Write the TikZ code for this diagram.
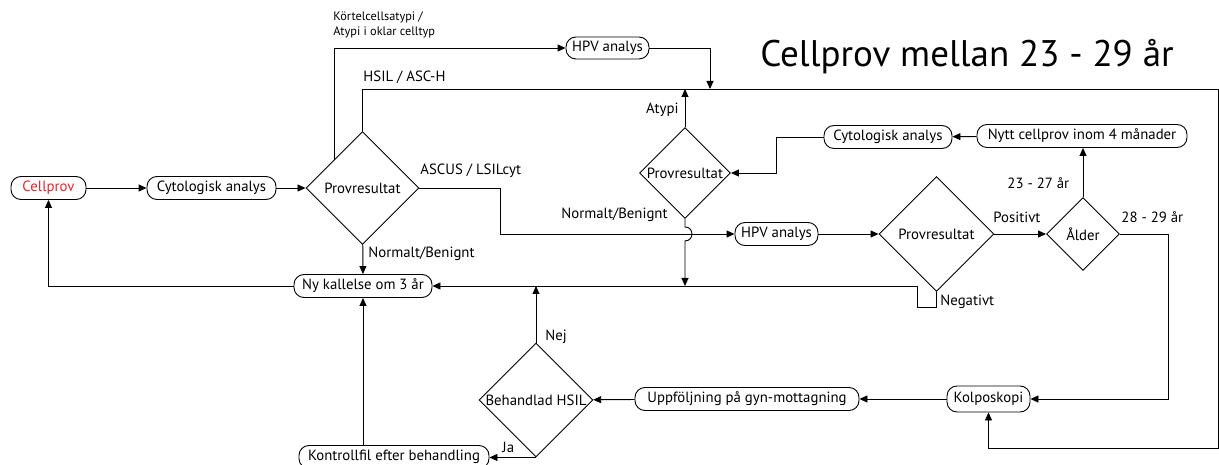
\documentclass[tikz,border=0pt]{standalone}
\usepackage{fontspec}
\setmainfont{PT Sans}
\usetikzlibrary{arrows.meta,calc,positioning,shapes.geometric}
\definecolor{provred}{HTML}{E3262B}

\begin{document}
\begin{tikzpicture}[
    x=1pt, y=-1pt,
    line width=0.9pt,
    font=\fontsize{14.8}{17}\selectfont,
    box/.style={draw, rounded corners=10pt, minimum height=23pt, inner sep=0, align=center},
    choice/.style={draw, diamond, inner sep=0, minimum width=#1, minimum height=#1},
    lbl/.style={inner sep=0, anchor=west},
    small/.style={lbl, font=\fontsize{12.3}{15}\selectfont, align=left},
    arr/.style={-{Triangle[length=8pt, width=7pt]}}]
\useasboundingbox (0,0) rectangle (1219,465);

\node[font=\fontsize{37}{44}\selectfont, inner sep=0] (title) at (967,57) {Cellprov mellan 23 - 29 år};

\node[box, minimum width=75pt, text=provred] (cellprov) at (48.5,188) {Cellprov};
\node[box, minimum width=129pt] (cyt) at (211.5,188) {Cytologisk analys};
\node[choice=113pt] (prov) at (362.5,188) {Provresultat};
\node[box, minimum width=138pt] (ny) at (363,286) {Ny kallelse om 3 år};
\node[box, minimum width=83pt, minimum height=22pt] (hpv) at (607.5,48) {HPV analys};
\node[choice=91pt] (provb) at (685,173) {Provresultat};
\node[box, minimum width=128pt] (cytb) at (888,137) {Cytologisk analys};
\node[box, minimum width=210pt] (nytt) at (1082,136) {Nytt cellprov inom 4 månader};
\node[box, minimum width=83pt] (hpvb) at (776.5,234) {HPV analys};
\node[choice=115pt] (provc) at (936.5,234) {Provresultat};
\node[choice=73pt] (alder) at (1083,234) {Ålder};
\node[box, minimum width=83pt, minimum height=26pt] (kolp) at (988.5,399) {Kolposkopi};
\node[box, minimum width=224pt] (uppf) at (747,399) {Uppföljning på gyn-mottagning};
\node[choice=114pt] (behand) at (536,400) {Behandlad HSIL};
\node[box, minimum width=190pt] (kontroll) at (394,457) {Kontrollfil efter behandling};

\coordinate (ne) at (1218,89);
\coordinate (se) at (1218,448);
\coordinate (hpvin) at (710,89);

\node[small] (kortel) at (333,25) {Körtelcellsatypi /\\Atypi i oklar celltyp};
\node[lbl] (hsil) at (363,77) {HSIL / ASC-H};
\node[lbl] (ascus) at (420,171) {ASCUS / LSILcyt};
\node[lbl] (norma) at (368,254) {Normalt/Benignt};
\node[lbl] (normb) at (561,215) {Normalt/Benignt};
\node[lbl, anchor=east] (atypi) at (679,110) {Atypi};
\node[lbl] (pos) at (993,217) {Positivt};
\node[lbl] (neg) at (940,302) {Negativt};
\node[lbl] (yngre) at (1007,183) {23 - 27 år};
\node[lbl] (aldre) at (1121,217) {28 - 29 år};
\node[lbl] (nej) at (545,337) {Nej};
\node[lbl] (ja) at (502,447) {Ja};

\draw[arr] (cellprov) -- (cyt);
\draw[arr] (cyt) -- (prov);
\draw[arr] (prov) -- (ny);
\draw[arr] (ny.west) -| (cellprov.south);
\draw[arr] (prov.north west) |- (hpv);
\draw[arr] (hpv) -| (hpvin);
\draw[arr] (prov.north) |- (ne) -- (se) -| (kolp.south);
\draw[arr] (provb.north) -- (provb.north |- ne);
\draw[arr] (provb.south) -- ++(0,8) .. controls +(9.3,0) and +(9.3,0) .. ++(0,14) -- (provb.south |- ny.east);
\draw[arr] (prov.east) -- ++(81,0) |- (hpvb.west);
\draw[arr] (hpvb) -- (provc);
\draw[arr] (provc) -- (alder);
\draw[arr] (alder.north) -- (alder.north |- nytt.south);
\draw[arr] (nytt) -- (cytb);
\draw[arr] (cytb.west) -- ++(-47,0) |- (provb.east);
\draw[arr] (alder.east) -- ++(48,0) |- (kolp.east);
\draw[arr] (provc.south) -- ++(0,16) -- ++(-19,0) |- (ny.east);
\draw[arr] (kolp) -- (uppf);
\draw[arr] (uppf) -- (behand);
\draw[arr] (behand.north) -- (behand.north |- ny.east);
\draw[arr] (behand.south) -- (behand.south -| kontroll.east);
\draw[arr] (kontroll.north -| ny.south) -- (ny.south);

\end{tikzpicture}
\end{document}
